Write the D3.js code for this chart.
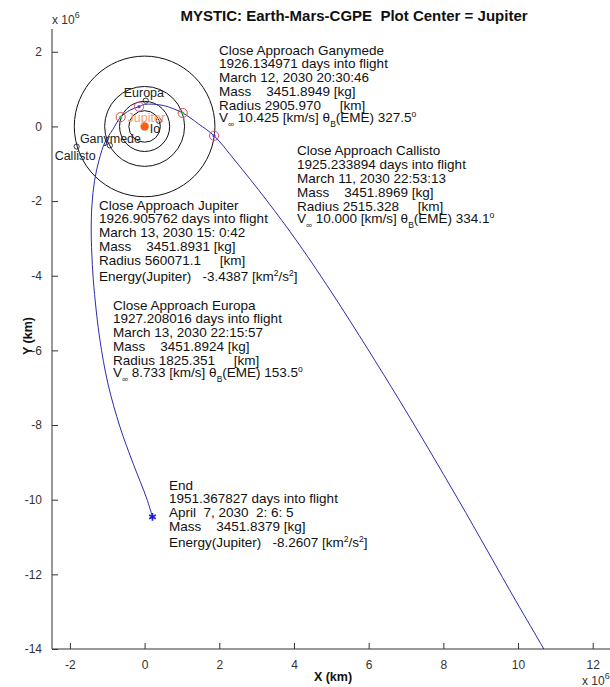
<!DOCTYPE html>
<html>
<head>
<meta charset="utf-8">
<script src="https://cdn.jsdelivr.net/npm/d3@7"></script>
<style>
  body { margin: 0; background: #fff; }
  text { font-family: "Liberation Sans", Arial, Helvetica, sans-serif; white-space: pre; }
</style>
</head>
<body>
<svg id="chart" width="610" height="687"></svg>
<script>
// ---- data (distances in 10^6 km, Jupiter-centred frame) ----
const moonNames = ["Io", "Europa", "Ganymede", "Callisto"];
const moonOrbitRadius = [0.422, 0.671, 1.070, 1.883];
const moonX = [0.38, 0.03, -0.93, -1.82];
const moonY = [0.15, 0.69, -0.51, -0.54];

// spacecraft path, in time order (arrival from lower right, capture, out to apojove)
const trajX = [11.15, 10.69, 9.93, 8.40, 6.82, 5.14, 4.11, 3.26, 2.41, 1.86, 1.44, 1.02, 0.50, 0.00, -0.15, -0.40, -0.64,
               -0.85, -1.06, -1.22, -1.34, -1.41, -1.43, -1.40, -1.34, -1.20, -0.98, -0.66, -0.30, 0.05, 0.21];
const trajY = [-14.83, -14.00, -12.69, -10.00, -7.33, -4.65, -3.12, -1.97, -0.90, -0.25, 0.07, 0.36, 0.56, 0.59, 0.53, 0.43, 0.25,
               -0.08, -0.42, -0.90, -1.45, -2.10, -2.80, -3.70, -4.50, -5.70, -6.90, -8.05, -9.05, -9.95, -10.46];

const approachNames = ["Callisto", "Ganymede", "Jupiter", "Europa"];
const approachX = [1.86, 1.02, -0.15, -0.64];
const approachY = [-0.25, 0.36, 0.53, 0.25];

const endX = 0.21;
const endY = -10.46;

const xTicks = [-2, 0, 2, 4, 6, 8, 10, 12];
const yTicks = [2, 0, -2, -4, -6, -8, -10, -12, -14];

const titleText = "MYSTIC: Earth-Mars-CGPE  Plot Center = Jupiter";

const ganymedeNote = [
  "Close Approach Ganymede",
  "1926.134971 days into flight",
  "March 12, 2030 20:30:46",
  "Mass    3451.8949 [kg]",
  "Radius 2905.970     [km]",
  "V_{\\infty} 10.425 [km/s] \\theta_{B}(EME) 327.5^{o}"
];
const callistoNote = [
  "Close Approach Callisto",
  "1925.233894 days into flight",
  "March 11, 2030 22:53:13",
  "Mass    3451.8969 [kg]",
  "Radius 2515.328     [km]",
  "V_{\\infty} 10.000 [km/s] \\theta_{B}(EME) 334.1^{o}"
];
const jupiterNote = [
  "Close Approach Jupiter",
  "1926.905762 days into flight",
  "March 13, 2030 15: 0:42",
  "Mass    3451.8931 [kg]",
  "Radius 560071.1     [km]",
  "Energy(Jupiter)   -3.4387 [km^{2}/s^{2}]"
];
const europaNote = [
  "Close Approach Europa",
  "1927.208016 days into flight",
  "March 13, 2030 22:15:57",
  "Mass    3451.8924 [kg]",
  "Radius 1825.351     [km]",
  "V_{\\infty} 8.733 [km/s] \\theta_{B}(EME) 153.5^{o}"
];
const endNote = [
  "End",
  "1951.367827 days into flight",
  "April  7, 2030  2: 6: 5",
  "Mass    3451.8379 [kg]",
  "Energy(Jupiter)   -8.2607 [km^{2}/s^{2}]"
];

// ---- layout ----
const svg = d3.select("#chart");
svg.append("rect").attr("width", 610).attr("height", 687).attr("fill", "#fff");

const plot = { left: 52, right: 614, top: 29, bottom: 649 };
const x = d3.scaleLinear().domain([-2.48, 12.57]).range([plot.left, plot.right]);
const y = d3.scaleLinear().domain([-14, 2.61]).range([plot.bottom, plot.top]);
const px = r => x(r) - x(0);

svg.append("clipPath").attr("id", "plotClip")
  .append("rect").attr("x", plot.left).attr("y", plot.top)
  .attr("width", plot.right - plot.left).attr("height", plot.bottom - plot.top);

const g = svg.append("g").attr("clip-path", "url(#plotClip)");

// moon orbits
g.selectAll("circle.orbit").data(moonOrbitRadius).join("circle")
  .attr("class", "orbit")
  .attr("cx", x(0)).attr("cy", y(0))
  .attr("r", d => px(d))
  .attr("fill", "none").attr("stroke", "#111").attr("stroke-width", 1);

// trajectory
const traj = trajX.map((d, i) => [d, trajY[i]]);
g.append("path")
  .datum(traj)
  .attr("d", d3.line().x(d => x(d[0])).y(d => y(d[1])).curve(d3.curveCatmullRom.alpha(0.5)))
  .attr("fill", "none").attr("stroke", "#2b2bb0").attr("stroke-width", 1);

// Jupiter
g.append("circle").attr("cx", x(0)).attr("cy", y(0)).attr("r", 4.2).attr("fill", "#ff5a14");

// moons
moonNames.forEach((name, i) => {
  g.append("circle").attr("cx", x(moonX[i])).attr("cy", y(moonY[i])).attr("r", 2.6)
    .attr("fill", "none").attr("stroke", "#222").attr("stroke-width", 0.9);
});
const moonLabelOffset = { Io: [-9, 12], Europa: [-22, -4], Ganymede: [-30, -2], Callisto: [-22, 13] };
moonNames.forEach((name, i) => {
  const o = moonLabelOffset[name];
  svg.append("text")
    .attr("x", x(moonX[i]) + o[0]).attr("y", y(moonY[i]) + o[1])
    .attr("font-size", 12.5).attr("fill", "#222").text(name);
});
svg.append("text").attr("x", x(0) - 17).attr("y", y(0) - 4.5)
  .attr("font-size", 12.5).attr("fill", "#f3a070").text("Jupiter");

// close-approach markers
const ringColor = { Callisto: "#d0509a", Ganymede: "#dd5050", Jupiter: "#d05090", Europa: "#dd5050" };
const dotColor = { Callisto: "#8030b0", Ganymede: "#30c030", Jupiter: "#6040c0", Europa: "#30c030" };
approachNames.forEach((name, i) => {
  g.append("circle").attr("cx", x(approachX[i])).attr("cy", y(approachY[i])).attr("r", 1.6)
    .attr("fill", dotColor[name]);
  g.append("circle").attr("cx", x(approachX[i])).attr("cy", y(approachY[i])).attr("r", 4.6)
    .attr("fill", "none").attr("stroke", ringColor[name]).attr("stroke-width", 1);
});

// end marker
g.append("path")
  .attr("transform", `translate(${x(endX)},${y(endY)})`)
  .attr("d", d3.symbol(d3.symbolAsterisk, 40)())
  .attr("fill", "none").attr("stroke", "#1a1ae0").attr("stroke-width", 1.6);

// ---- axes ----
const axisColor = "#333";
svg.append("line").attr("x1", plot.left).attr("x2", plot.left).attr("y1", plot.top).attr("y2", plot.bottom)
  .attr("stroke", axisColor);
svg.append("line").attr("x1", plot.left).attr("x2", plot.right).attr("y1", plot.bottom).attr("y2", plot.bottom)
  .attr("stroke", axisColor);

const minusFmt = d => (d < 0 ? "-" + Math.abs(d) : String(d));
const xAxis = svg.append("g").attr("transform", `translate(0,${plot.bottom})`)
  .call(d3.axisBottom(x).tickValues(xTicks).tickSizeInner(-6).tickSizeOuter(0).tickPadding(11).tickFormat(minusFmt));
const yAxis = svg.append("g").attr("transform", `translate(${plot.left},0)`)
  .call(d3.axisLeft(y).tickValues(yTicks).tickSizeInner(-6).tickSizeOuter(0).tickPadding(10).tickFormat(minusFmt));
[xAxis, yAxis].forEach(a => {
  a.select(".domain").remove();
  a.selectAll(".tick line").attr("stroke", axisColor);
  a.selectAll(".tick text").attr("font-size", 12).attr("fill", "#333")
    .attr("font-family", "'Liberation Sans', Arial, sans-serif");
});

// exponent markers
function exponent(xp, yp) {
  const t = svg.append("text").attr("x", xp).attr("y", yp).attr("font-size", 12).attr("fill", "#333");
  t.append("tspan").text("x 10");
  t.append("tspan").attr("dy", -6).attr("font-size", 9).text("6");
}
exponent(52, 24);
exponent(582, 685);

// axis labels and title
svg.append("text").attr("x", 333).attr("y", 681).attr("text-anchor", "middle")
  .attr("font-size", 12.5).attr("font-weight", "bold").attr("fill", "#111").text("X (km)");
svg.append("text").attr("transform", "translate(32,336) rotate(-90)").attr("text-anchor", "middle")
  .attr("font-size", 12.5).attr("font-weight", "bold").attr("fill", "#111").text("Y (km)");
svg.append("text").attr("x", 354).attr("y", 20.5).attr("text-anchor", "middle")
  .attr("font-size", 15).attr("font-weight", "bold").attr("fill", "#111").text(titleText);

// ---- annotation blocks (TeX-like _{ } and ^{ } markup) ----
function texLine(textSel, str) {
  const s = str.replace(/\\infty/g, "\u221E").replace(/\\theta/g, "\u03B8");
  const parts = s.split(/(_\{[^}]*\}|\^\{[^}]*\})/).filter(p => p.length);
  let carry = 0;
  parts.forEach(p => {
    if (p.startsWith("_{") || p.startsWith("^{")) {
      const shift = p[0] === "_" ? 5 : -5;
      textSel.append("tspan").attr("dy", carry + shift).attr("font-size", 8.5).text(p.slice(2, -1));
      carry = -shift;
    } else {
      const ts = textSel.append("tspan").text(p);
      if (carry) ts.attr("dy", carry);
      carry = 0;
    }
  });
}
function note(lines, x0, y0) {
  let yy = y0;
  lines.forEach((ln, i) => {
    if (i > 0) {
      if (ln.includes("_{")) yy += 12;
      else if (ln.includes("^{")) yy += 15.5;
      else yy += 13.9;
    }
    const t = svg.append("text").attr("x", x0).attr("y", yy)
      .attr("font-size", 13.5).attr("fill", "#111");
    texLine(t, ln);
  });
}
note(ganymedeNote, 219, 54.5);
note(callistoNote, 297, 155.2);
note(jupiterNote, 99, 209.5);
note(europaNote, 113, 309.5);
note(endNote, 169, 489.5);
</script>
</body>
</html>
